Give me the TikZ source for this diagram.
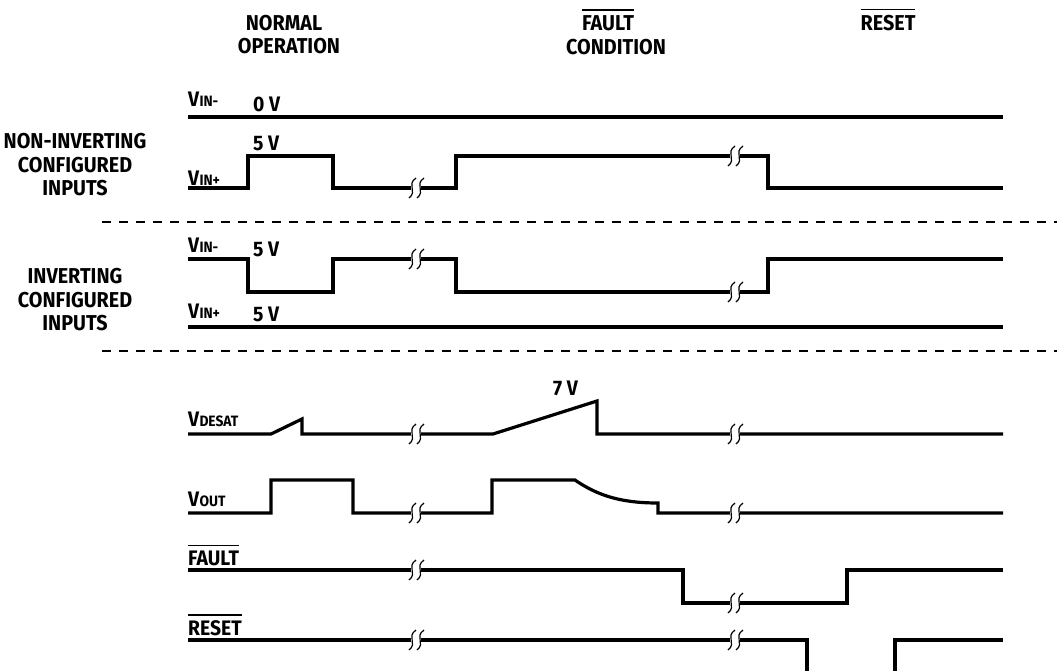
\documentclass[tikz,border=0pt]{standalone}
\usepackage{fontspec}
\setmainfont{Fira Sans}[FakeStretch=0.92]

\newcommand{\ovl}[1]{\vbox{\hrule height 1.4pt\kern 4.5pt\hbox{#1}}}
\newcommand{\vsub}[1]{V\kern0.3pt{\fontsize{15}{15}\selectfont #1}}
% break mark on a trace
\newcommand{\brk}[2]{%
  \fill[white] (#1-5,#2-3) rectangle (#1+5,#2+3);
  \draw[line width=1.2pt] (#1,#2-10) .. controls (#1-10,#2-3) and (#1+2,#2+3) .. (#1-7,#2+10);
  \draw[line width=1.2pt] (#1+8,#2-10) .. controls (#1-2,#2-3) and (#1+10,#2+3) .. (#1+1,#2+10);}

\begin{document}
\begin{tikzpicture}[x=1pt,y=-1pt,
  wave/.style={line width=3.2pt, line join=miter},
  sep/.style={line width=1.1pt, dash pattern=on 9pt off 8pt},
  lbl/.style={anchor=base west, inner sep=0pt, font=\fontsize{21}{21}\selectfont\bfseries},
  hd/.style={anchor=base, inner sep=0pt, font=\fontsize{21.5}{21.5}\selectfont\bfseries}]

\useasboundingbox (0,0) rectangle (1057,670);

% column headers
\node[hd] (normA) at (284,30) {NORMAL};
\node[hd] (normB) at (289,53) {OPERATION};
\node[hd] (faultA) at (608,30) {\ovl{FAULT}};
\node[hd] (faultB) at (616,54) {CONDITION};
\node[hd] (resetA) at (888,30) {\ovl{RESET}};

% group labels
\node[hd] (nonA) at (75,148) {NON-INVERTING};
\node[hd] (nonB) at (75,172) {CONFIGURED};
\node[hd] (nonC) at (75,195) {INPUTS};
\node[hd] (invA) at (75,283) {INVERTING};
\node[hd] (invB) at (75,307) {CONFIGURED};
\node[hd] (invC) at (75,330) {INPUTS};

% separators
\draw[sep] (102,222) -- (1057,222);
\draw[sep] (102,351) -- (1057,351);

% non-inverting inputs
\draw[wave] (188,117) -- (1003,117);
\draw[wave] (188,188) -- (248,188) -- (248,156) -- (333,156) -- (333,188) -- (456,188)
  -- (456,156) -- (768,156) -- (768,188) -- (1003,188);

% inverting inputs
\draw[wave] (188,259) -- (248,259) -- (248,292) -- (333,292) -- (333,259) -- (456,259)
  -- (456,292) -- (768,292) -- (768,259) -- (1003,259);
\draw[wave] (188,327) -- (1003,327);

% outputs
\draw[wave] (188,434) -- (271,434) -- (302,419) -- (302,434) -- (493,434) -- (597,401)
  -- (597,434) -- (1003,434);
\draw[wave] (188,513) -- (271,513) -- (271,480) -- (353,480) -- (353,513) -- (492,513)
  -- (492,480) -- (575,480) .. controls (598,496) and (622,503) .. (658,503)
  -- (658,513) -- (1003,513);
\draw[wave] (188,570) -- (683,570) -- (683,603) -- (847,603) -- (847,570) -- (1003,570);
\draw[wave] (188,640) -- (807,640) -- (807,680);
\draw[wave] (895,680) -- (895,640) -- (1003,640);

% time breaks
\brk{416}{188} \brk{735}{156}
\brk{416}{259} \brk{735}{292}
\brk{416}{434} \brk{735}{434}
\brk{416}{513} \brk{735}{513}
\brk{416}{570} \brk{735}{603}
\brk{416}{640} \brk{735}{640}

% trace names
\node[lbl] (vinA) at (188,106) {\vsub{IN-}};
\node[lbl] (vipA) at (188,185) {\vsub{IN+}};
\node[lbl] (vinB) at (188,252) {\vsub{IN-}};
\node[lbl] (vipB) at (188,318) {\vsub{IN+}};
\node[lbl] (vdes) at (188,426) {\vsub{DESAT}};
\node[lbl] (vout) at (188,506) {\vsub{OUT}};
\node[lbl] (flt) at (188,565) {\ovl{FAULT}};
\node[lbl] (rst) at (188,635) {\ovl{RESET}};

% levels
\node[lbl] (lvA) at (253,111) {0 V};
\node[lbl] (lvB) at (253,150) {5 V};
\node[lbl] (lvC) at (253,256) {5 V};
\node[lbl] (lvD) at (253,321) {5 V};
\node[lbl] (lvE) at (553,395) {7 V};

\end{tikzpicture}
\end{document}
